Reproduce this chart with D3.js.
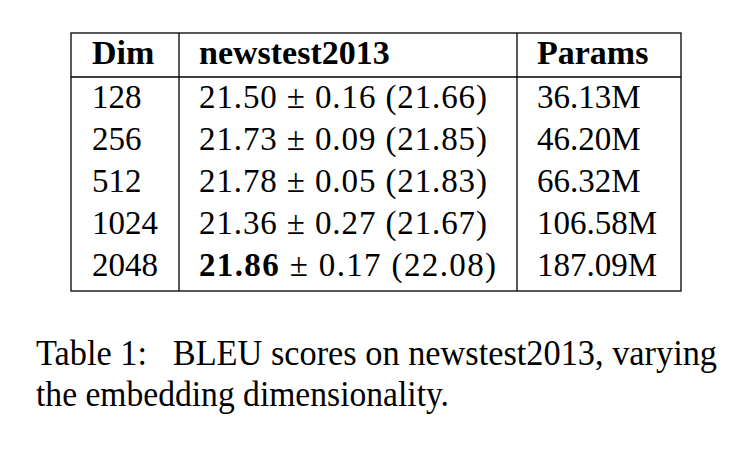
<!DOCTYPE html>
<html><head><meta charset="utf-8">
<script src="https://cdn.jsdelivr.net/npm/d3@7"></script>
<style>html,body{margin:0;padding:0;background:#fff;}svg{display:block;}</style>
</head><body>
<script>
const headers = ["Dim", "newstest2013", "Params"];
const dims = ["128", "256", "512", "1024", "2048"];
const means = ["21.50", "21.73", "21.78", "21.36", "21.86"];
const stds = ["0.16", "0.09", "0.05", "0.27", "0.17"];
const bests = ["21.66", "21.85", "21.83", "21.67", "22.08"];
const params = ["36.13M", "46.20M", "66.32M", "106.58M", "187.09M"];
const boldRow = 4;
const captionLines = ["Table 1:\u2002 BLEU scores on newstest2013, varying", "the embedding dimensionality."];

(function () {
const W = 755, H = 458;
const svg = d3.select("body").append("svg").attr("width", W).attr("height", H);
const font = "'Liberation Serif', 'Times New Roman', serif";
const fs = 33, fsHead = 34, fsCap = 35;

const tLeft = 71, tRight = 681, tTop = 33, headBottom = 77, tBottom = 291;
const colX = [71, 179, 517, 681];
const textX = [92, 199, 537];

const y = d3.scalePoint().domain(dims).range([108, 276]);

const g = svg.append("g");
g.append("rect").attr("x", tLeft).attr("y", tTop).attr("width", tRight - tLeft).attr("height", tBottom - tTop)
  .attr("fill", "none").attr("stroke", "#000").attr("stroke-width", 1.3);
g.append("line").attr("x1", tLeft).attr("x2", tRight).attr("y1", headBottom).attr("y2", headBottom)
  .attr("stroke", "#000").attr("stroke-width", 1.3);
[colX[1], colX[2]].forEach(x => g.append("line").attr("x1", x).attr("x2", x).attr("y1", tTop).attr("y2", tBottom)
  .attr("stroke", "#000").attr("stroke-width", 1.3));

g.selectAll("text.h").data(headers).join("text").attr("class", "h")
  .attr("x", (d, i) => textX[i]).attr("y", 64)
  .attr("font-family", font).attr("font-size", fsHead).attr("font-weight", "bold").text(d => d);

dims.forEach((d, i) => {
  const yy = y(d);
  g.append("text").attr("x", textX[0]).attr("y", yy).attr("font-family", font).attr("font-size", fs).text(d);
  const t = g.append("text").attr("x", textX[1]).attr("y", yy).attr("font-family", font).attr("font-size", fs)
    .attr("textLength", i === boldRow ? 297 : 288).attr("lengthAdjust", "spacing");
  t.append("tspan").attr("font-weight", i === boldRow ? "bold" : "normal").text(means[i]);
  t.append("tspan").text(" \u00B1 " + stds[i] + " (" + bests[i] + ")");
  g.append("text").attr("x", textX[2]).attr("y", yy).attr("font-family", font).attr("font-size", fs).text(params[i]);
});

const capLen = [681, 413];
svg.selectAll("text.cap").data(captionLines).join("text").attr("class", "cap")
  .attr("x", 36).attr("y", (d, i) => 365 + i * 41)
  .attr("font-family", font).attr("font-size", fsCap)
  .attr("textLength", (d, i) => capLen[i]).attr("lengthAdjust", "spacingAndGlyphs")
  .text(d => d);
})();
</script>
</body></html>
